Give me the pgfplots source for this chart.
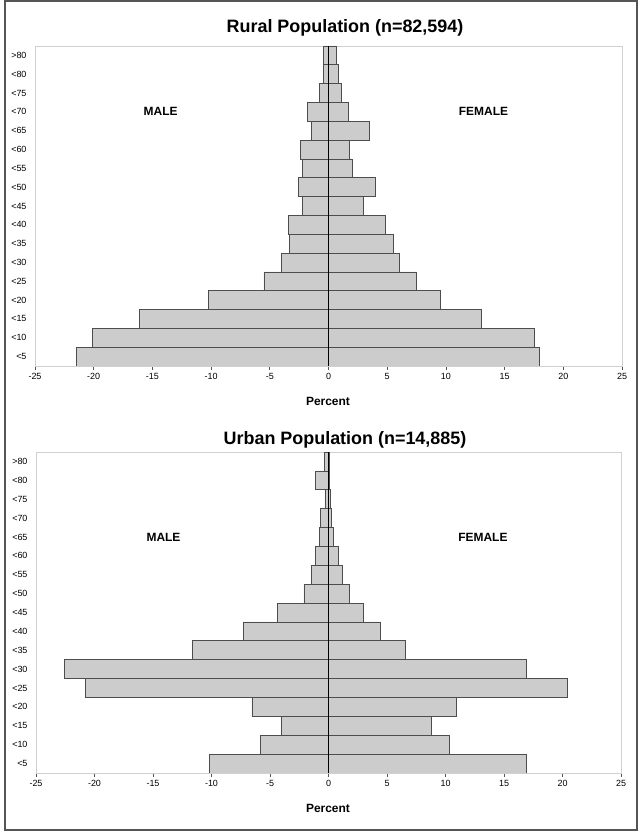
\documentclass[border=0pt]{standalone}
\usepackage{pgfplots}
\pgfplotsset{compat=1.18}
\usepackage{fontspec}
\setmainfont{Liberation Sans}

\definecolor{barfill}{HTML}{CCCCCC}
\definecolor{baredge}{HTML}{4D4D4D}
\definecolor{boxgray}{HTML}{D0D0D0}
\definecolor{axisgray}{HTML}{555555}

\pgfplotsset{
  pyramid/.style={
    scale only axis,
    xmin=-25, xmax=25,
    ymin=-0.5, ymax=16.5,
    xtick={-25,-20,...,25},
    ytick={0,...,16},
    yticklabels={{<5},{<10},{<15},{<20},{<25},{<30},{<35},{<40},{<45},{<50},{<55},{<60},{<65},{<70},{<75},{<80},{>80}},
    xbar, bar width=1, bar shift=0pt,
    axis line style={boxgray, line width=0.6bp},
    tick align=outside,
    xtick pos=bottom,
    major tick length=4bp,
    xtick style={axisgray, line width=0.8bp},
    ytick style={draw=none},
    ticklabel style={font=\fontsize{9}{10}\selectfont},
    yticklabel style={xshift=-1bp},
    /pgf/number format/assume math mode=true,
  },
  bars/.style={fill=barfill, draw=baredge, line width=0.7bp},
}

\begin{document}
\begin{tikzpicture}
\useasboundingbox (0bp,0bp) rectangle (643bp,834bp);
\draw[axisgray, line width=1.3bp] (5bp,4bp) rectangle (637bp,833bp);

% ---- rural ----
\node[font=\bfseries\fontsize{18}{20}\selectfont] at (345bp,806bp) {Rural Population (n=82,594)};
\begin{axis}[pyramid, at={(35bp,468bp)}, anchor=south west, width=587bp, height=320bp]
\addplot[bars] coordinates {(-21.5,0) (-20.1,1) (-16.1,2) (-10.2,3) (-5.5,4) (-4.0,5) (-3.3,6) (-3.4,7) (-2.2,8) (-2.55,9) (-2.2,10) (-2.4,11) (-1.45,12) (-1.8,13) (-0.8,14) (-0.4,15) (-0.4,16)};
\addplot[bars] coordinates {(18.0,0) (17.5,1) (13.0,2) (9.5,3) (7.5,4) (6.0,5) (5.5,6) (4.8,7) (3.0,8) (4.0,9) (2.0,10) (1.8,11) (3.5,12) (1.7,13) (1.1,14) (0.8,15) (0.65,16)};
\draw[black, line width=0.6bp] (axis cs:0,-0.5) -- (axis cs:0,16.5);
\draw[axisgray, line width=0.8bp] (rel axis cs:0,0) -- (rel axis cs:1,0);
\node[font=\bfseries\fontsize{12}{14}\selectfont] at (axis cs:-14.3,13) {MALE};
\node[font=\bfseries\fontsize{12}{14}\selectfont] at (axis cs:13.2,13) {FEMALE};
\end{axis}
\node[font=\bfseries\fontsize{12}{14}\selectfont] at (328bp,433bp) {Percent};

% ---- urban ----
\node[font=\bfseries\fontsize{18}{20}\selectfont] at (345bp,394bp) {Urban Population (n=14,885)};
\begin{axis}[pyramid, at={(36bp,61bp)}, anchor=south west, width=585bp, height=321bp]
\addplot[bars] coordinates {(-10.2,0) (-5.8,1) (-4.0,2) (-6.55,3) (-20.75,4) (-22.6,5) (-11.65,6) (-7.3,7) (-4.35,8) (-2.1,9) (-1.45,10) (-1.1,11) (-0.75,12) (-0.7,13) (-0.3,14) (-1.1,15) (-0.35,16)};
\addplot[bars] coordinates {(16.9,0) (10.3,1) (8.75,2) (10.95,3) (20.45,4) (16.9,5) (6.6,6) (4.45,7) (2.95,8) (1.8,9) (1.15,10) (0.8,11) (0.4,12) (0.28,13) (0.18,14) (0.05,15) (0.1,16)};
\draw[black, line width=0.6bp] (axis cs:0,-0.5) -- (axis cs:0,16.5);
\draw[axisgray, line width=0.8bp] (rel axis cs:0,0) -- (rel axis cs:1,0);
\node[font=\bfseries\fontsize{12}{14}\selectfont] at (axis cs:-14.1,12) {MALE};
\node[font=\bfseries\fontsize{12}{14}\selectfont] at (axis cs:13.2,12) {FEMALE};
\end{axis}
\node[font=\bfseries\fontsize{12}{14}\selectfont] at (328bp,26bp) {Percent};
\end{tikzpicture}
\end{document}
